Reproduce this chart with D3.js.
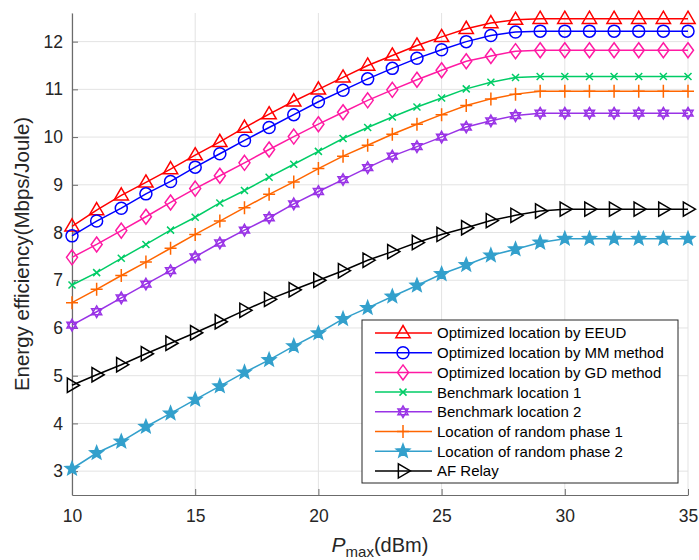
<!DOCTYPE html>
<meta charset="utf-8">
<script src="https://d3js.org/d3.v7.min.js"></script>
<style>
body { margin: 0; background: #fff; }
text { font-family: "Liberation Sans", Arial, Helvetica, sans-serif; }
</style>
<div id="my_dataviz"></div>
<script>

// x values (dBm)
var pmax = d3.range(10, 36);

// series values
var eeud = [8.13, 8.47, 8.78, 9.05, 9.33, 9.62, 9.9, 10.2, 10.48, 10.75, 11.0, 11.25, 11.5, 11.71, 11.92, 12.1, 12.27, 12.39, 12.46, 12.48, 12.48, 12.48, 12.48, 12.48, 12.48, 12.48];
var mm = [7.93, 8.24, 8.51, 8.81, 9.07, 9.37, 9.65, 9.93, 10.2, 10.47, 10.74, 10.98, 11.22, 11.44, 11.65, 11.83, 12.0, 12.13, 12.2, 12.22, 12.22, 12.22, 12.22, 12.22, 12.22, 12.22];
var gd = [7.48, 7.75, 8.04, 8.33, 8.63, 8.92, 9.19, 9.46, 9.74, 10.01, 10.27, 10.52, 10.77, 10.99, 11.2, 11.4, 11.59, 11.7, 11.8, 11.82, 11.82, 11.82, 11.82, 11.82, 11.82, 11.82];
var bench1 = [6.9, 7.16, 7.46, 7.75, 8.05, 8.32, 8.62, 8.88, 9.16, 9.43, 9.7, 9.97, 10.2, 10.42, 10.63, 10.82, 11.01, 11.15, 11.25, 11.27, 11.27, 11.27, 11.27, 11.27, 11.27, 11.27];
var bench2 = [6.06, 6.34, 6.63, 6.92, 7.2, 7.49, 7.78, 8.05, 8.31, 8.6, 8.86, 9.11, 9.36, 9.6, 9.8, 10.0, 10.21, 10.34, 10.45, 10.5, 10.5, 10.5, 10.5, 10.5, 10.5, 10.5];
var rand1 = [6.53, 6.81, 7.1, 7.38, 7.67, 7.96, 8.24, 8.52, 8.8, 9.06, 9.34, 9.6, 9.83, 10.06, 10.27, 10.47, 10.66, 10.8, 10.9, 10.96, 10.96, 10.96, 10.96, 10.96, 10.96, 10.96];
var rand2 = [3.05, 3.38, 3.62, 3.93, 4.21, 4.5, 4.78, 5.07, 5.33, 5.62, 5.89, 6.19, 6.42, 6.66, 6.89, 7.13, 7.32, 7.52, 7.65, 7.79, 7.87, 7.87, 7.87, 7.87, 7.87, 7.87];
var af = [4.8, 5.02, 5.23, 5.46, 5.68, 5.9, 6.13, 6.37, 6.6, 6.8, 7.0, 7.2, 7.42, 7.6, 7.79, 7.96, 8.1, 8.25, 8.36, 8.45, 8.49, 8.49, 8.49, 8.49, 8.49, 8.49];

var names = ["Optimized location by EEUD", "Optimized location by MM method", "Optimized location by GD method",
  "Benchmark location 1", "Benchmark location 2", "Location of random phase 1", "Location of random phase 2", "AF Relay"];

var xTicks = [10, 15, 20, 25, 30, 35];
var yTicks = [3, 4, 5, 6, 7, 8, 9, 10, 11, 12];

var series = [
  {name: names[0], values: eeud, color: "#ff0000", marker: "triUp"},
  {name: names[1], values: mm, color: "#0000ff", marker: "circle"},
  {name: names[2], values: gd, color: "#ff1aa3", marker: "diamond"},
  {name: names[3], values: bench1, color: "#00cc66", marker: "cross"},
  {name: names[4], values: bench2, color: "#9933e6", marker: "hexagram"},
  {name: names[5], values: rand1, color: "#ff6600", marker: "plus"},
  {name: names[6], values: rand2, color: "#33a0cc", marker: "star"},
  {name: names[7], values: af, color: "#000000", marker: "triRight"}
];

var W = 699, H = 560;
var margin = {top: 13, right: 11, bottom: 65, left: 72},
    width = W - margin.left - margin.right,
    height = H - margin.top - margin.bottom;

var svg = d3.select("#my_dataviz")
  .append("svg")
    .attr("width", W)
    .attr("height", H)
  .append("g")
    .attr("transform", "translate(" + margin.left + "," + margin.top + ")");

var x = d3.scaleLinear().domain([10, 35]).range([0, width]);
var y = d3.scaleLinear().domain([2.5, 12.6]).range([height, 0]);

// grid
svg.append("g").selectAll("line").data(xTicks).enter().append("line")
  .attr("x1", d => x(d)).attr("x2", d => x(d)).attr("y1", 0).attr("y2", height)
  .attr("stroke", "#e3e3e3").attr("stroke-width", 1);
svg.append("g").selectAll("line").data(yTicks).enter().append("line")
  .attr("x1", 0).attr("x2", width).attr("y1", d => y(d)).attr("y2", d => y(d))
  .attr("stroke", "#e3e3e3").attr("stroke-width", 1);

// axes (MATLAB style, ticks inside)
var xAxis = svg.append("g")
  .attr("transform", "translate(0," + height + ")")
  .call(d3.axisBottom(x).tickValues(xTicks).tickSize(-6).tickPadding(15).tickSizeOuter(0));
var yAxis = svg.append("g")
  .call(d3.axisLeft(y).tickValues(yTicks).tickSize(-6).tickPadding(9).tickSizeOuter(0));
[xAxis, yAxis].forEach(function(a) {
  a.select(".domain").attr("stroke", "#6b6b6b").attr("stroke-width", 1.2);
  a.selectAll(".tick line").attr("stroke", "#6b6b6b");
  a.selectAll(".tick text").attr("fill", "#262626").style("font-size", "17.5px");
});

// marker paths
function markerPath(type) {
  var p = d3.path();
  if (type === "triUp") {
    var r = 7.5;
    p.moveTo(0, -r); p.lineTo(r * 0.95, r * 0.62); p.lineTo(-r * 0.95, r * 0.62); p.closePath();
  } else if (type === "triRight") {
    var r = 7.5;
    p.moveTo(r, 0); p.lineTo(-r * 0.62, r * 0.95); p.lineTo(-r * 0.62, -r * 0.95); p.closePath();
  } else if (type === "circle") {
    p.arc(0, 0, 6, 0, 2 * Math.PI); p.closePath();
  } else if (type === "diamond") {
    p.moveTo(0, -7.5); p.lineTo(5.5, 0); p.lineTo(0, 7.5); p.lineTo(-5.5, 0); p.closePath();
  } else if (type === "cross") {
    p.moveTo(-3.5, -3.5); p.lineTo(3.5, 3.5); p.moveTo(3.5, -3.5); p.lineTo(-3.5, 3.5);
  } else if (type === "plus") {
    p.moveTo(-6, 0); p.lineTo(6, 0); p.moveTo(0, -6.5); p.lineTo(0, 6.5);
  } else if (type === "hexagram") {
    var r = 5.8;
    for (var k = 0; k < 2; k++) {
      for (var j = 0; j < 3; j++) {
        var a = -Math.PI / 2 + k * Math.PI / 3 + j * 2 * Math.PI / 3;
        if (j === 0) p.moveTo(r * Math.cos(a), r * Math.sin(a)); else p.lineTo(r * Math.cos(a), r * Math.sin(a));
      }
      p.closePath();
    }
  } else if (type === "star") {
    var ro = 7, ri = 3;
    for (var j = 0; j < 10; j++) {
      var a = -Math.PI / 2 + j * Math.PI / 5, rr = j % 2 ? ri : ro;
      if (j === 0) p.moveTo(rr * Math.cos(a), rr * Math.sin(a)); else p.lineTo(rr * Math.cos(a), rr * Math.sin(a));
    }
    p.closePath();
  }
  return p.toString();
}

function drawMarker(sel, d) {
  sel.append("path")
    .attr("d", markerPath(d.marker))
    .attr("fill", d.marker === "star" ? d.color : "none")
    .attr("stroke", d.color)
    .attr("stroke-width", 1.5)
    .attr("stroke-linejoin", "miter");
}

var line = d3.line()
  .x(function(d, i) { return x(pmax[i]); })
  .y(function(d) { return y(d); });

var groups = svg.append("g").selectAll("g")
  .data(series)
  .enter().append("g");

groups.append("path")
  .attr("d", d => line(d.values))
  .attr("fill", "none")
  .attr("stroke", d => d.color)
  .attr("stroke-width", 1.5);

groups.each(function(d) {
  var g = d3.select(this);
  d.values.forEach(function(v, i) {
    var m = g.append("g").attr("transform", "translate(" + x(pmax[i]) + "," + y(v) + ")");
    drawMarker(m, d);
  });
});

// legend
var lx = 362 - margin.left, ly = 320 - margin.top, lw = 316, lh = 163;
var legend = svg.append("g").attr("transform", "translate(" + lx + "," + ly + ")");
legend.append("rect")
  .attr("width", lw).attr("height", lh)
  .attr("fill", "#fff").attr("stroke", "#262626").attr("stroke-width", 1);

var items = legend.selectAll(".legend")
  .data(series)
  .enter().append("g")
    .attr("class", "legend")
    .attr("transform", function(d, i) { return "translate(0," + (13 + i * 19.7) + ")"; });

items.append("line")
  .attr("x1", 13).attr("x2", 70)
  .attr("stroke", d => d.color).attr("stroke-width", 1.5);
items.each(function(d) {
  var m = d3.select(this).append("g").attr("transform", "translate(41,0)");
  drawMarker(m, d);
});
items.append("text")
  .attr("x", 75)
  .attr("dy", ".36em")
  .style("font-size", "15px")
  .attr("fill", "#000")
  .text(d => d.name);

// axis labels
svg.append("text")
  .attr("transform", "translate(-43," + (height / 2) + ") rotate(-90)")
  .attr("text-anchor", "middle")
  .style("font-size", "20.5px")
  .attr("fill", "#262626")
  .text("Energy efficiency(Mbps/Joule)");

var xl = svg.append("text")
  .attr("x", width / 2)
  .attr("y", height + 57)
  .attr("text-anchor", "middle")
  .style("font-size", "20px")
  .attr("fill", "#262626");
xl.append("tspan").style("font-style", "italic").style("font-size", "21px").text("P");
xl.append("tspan").attr("dy", 5).style("font-size", "15px").text("max");
xl.append("tspan").attr("dy", -5).text("(dBm)");

</script>
